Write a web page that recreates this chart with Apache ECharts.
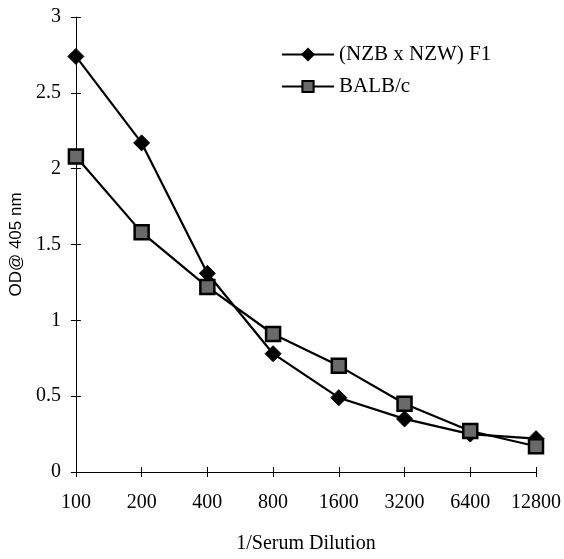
<!DOCTYPE html>
<html><head><meta charset="utf-8">
<script src="https://cdn.jsdelivr.net/npm/echarts@6/dist/echarts.min.js"></script>
<style>html,body{margin:0;padding:0;background:#fff}#c{width:564px;height:559px}</style>
</head><body><div id="c"></div>
<script>
const categories = ['100','200','400','800','1600','3200','6400','12800'];
const nzbValues = [2.74, 2.17, 1.31, 0.78, 0.49, 0.35, 0.25, 0.22];
const balbValues = [2.08, 1.58, 1.22, 0.91, 0.70, 0.45, 0.27, 0.17];
const seriesNames = ['(NZB x NZW) F1', 'BALB/c'];
const yTicks = {min: 0, max: 3, interval: 0.5};

const font = 'Liberation Serif';
const chart = echarts.init(document.getElementById('c'));
const axisLine = {show: true, lineStyle: {color: '#000', width: 1}};
chart.setOption({
  animation: false,
  textStyle: {fontFamily: font, color: '#000'},
  grid: {left: 75, right: 28, top: 17, bottom: 84},
  legend: {
    left: 276, top: 39, orient: 'vertical', itemWidth: 52, itemHeight: 14, itemGap: 11,
    textStyle: {fontFamily: font, fontSize: 21, color: '#000'},
    data: seriesNames
  },
  xAxis: [{
    type: 'category', data: categories, boundaryGap: false,
    axisLine: axisLine,
    axisTick: {show: true, length: 5, lineStyle: {color: '#000'}},
    axisLabel: {fontFamily: font, fontSize: 20, color: '#000', margin: 21},
    splitLine: {show: false},
    name: '1/Serum Dilution', nameLocation: 'middle', nameGap: 62,
    nameTextStyle: {fontFamily: font, fontSize: 20, color: '#000'}
  }, {
    type: 'category', data: categories, boundaryGap: false, position: 'bottom',
    axisLine: {show: false},
    axisTick: {show: true, inside: true, length: 5, lineStyle: {color: '#000'}},
    axisLabel: {show: false}, splitLine: {show: false}
  }],
  yAxis: [{
    type: 'value', min: yTicks.min, max: yTicks.max, interval: yTicks.interval,
    axisLine: axisLine,
    axisTick: {show: true, length: 5, lineStyle: {color: '#000'}},
    axisLabel: {fontFamily: font, fontSize: 20, color: '#000', margin: 15},
    splitLine: {show: false},
    name: 'OD@ 405 nm', nameLocation: 'middle', nameGap: 48, nameRotate: 90,
    nameTextStyle: {fontFamily: 'Liberation Sans', fontSize: 17, color: '#000'}
  }, {
    type: 'value', min: yTicks.min, max: yTicks.max, interval: yTicks.interval, position: 'left',
    axisLine: {show: false},
    axisTick: {show: true, inside: true, length: 5, lineStyle: {color: '#000'}},
    axisLabel: {show: false}, splitLine: {show: false}
  }],
  series: [{
    name: seriesNames[0], type: 'line', data: nzbValues,
    symbol: 'diamond', symbolSize: 16,
    lineStyle: {color: '#000', width: 2.2},
    itemStyle: {color: '#000', borderColor: '#000', borderWidth: 1}
  }, {
    name: seriesNames[1], type: 'line', data: balbValues,
    symbol: 'rect', symbolSize: 14,
    lineStyle: {color: '#000', width: 2.2},
    itemStyle: {color: '#6a6a6a', borderColor: '#000', borderWidth: 2.5}
  }]
});
</script></body></html>
